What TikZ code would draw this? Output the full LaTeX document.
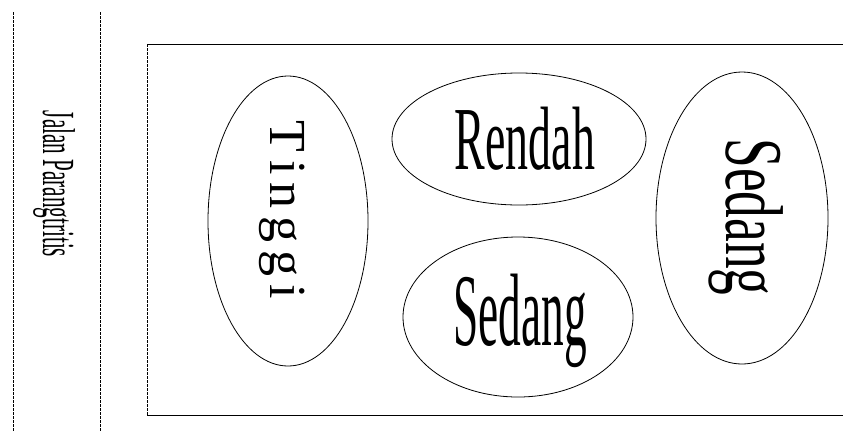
\documentclass[tikz,border=0pt]{standalone}
\usepackage{fontspec}
\setmainfont{Liberation Serif}
\usetikzlibrary{shapes.geometric}
\begin{document}
\begin{tikzpicture}[x=1pt,y=-1pt,
  zone/.style={ellipse,draw,line width=0.8pt,inner sep=0pt},
  lbl/.style={inner sep=0pt,anchor=center},
  guide/.style={line width=0.7pt,dash pattern=on 3pt off 1pt},
  frameline/.style={line width=0.9pt}]
\useasboundingbox (0,0) rectangle (843,432);
% vertical guide lines
\coordinate (g1t) at (13,12);  \coordinate (g1b) at (13,432);
\coordinate (g2t) at (100,12); \coordinate (g2b) at (100,432);
\draw[guide] (g1t) -- (g1b);
\draw[guide] (g2t) -- (g2b);
% street name
\node[lbl,rotate=-90] (street) at (54,184)
  {\fontsize{46}{46}\selectfont\scalebox{0.46}[1]{Jalan Parangtritis}};
% open frame
\coordinate (ftr) at (843,44); \coordinate (ftl) at (147,44);
\coordinate (fbl) at (147,415); \coordinate (fbr) at (843,415);
\draw[frameline] (ftr) -- (ftl);
\draw[guide] (ftl) -- (fbl);
\draw[frameline] (fbl) -- (fbr);
% zones
\node[zone,minimum width=160pt,minimum height=290pt] (etinggi) at (288,221) {};
\node[zone,minimum width=254pt,minimum height=132pt] (erendah) at (519,139) {};
\node[zone,minimum width=230pt,minimum height=160pt] (esedang) at (518,317) {};
\node[zone,minimum width=172pt,minimum height=292pt] (esedang2) at (742,218) {};
% labels
\node[lbl,rotate=-90] (ttinggi) at (282,210)
  {\fontsize{52}{52}\selectfont T\kern8pt i\kern8pt n\kern8pt g\kern8pt g\kern8pt i};
\node[lbl] (trendah) at (525,139)
  {\fontsize{90}{90}\selectfont\scalebox{0.51}[1]{Rendah}};
\node[lbl] (tsedang) at (520,321)
  {\fontsize{103}{103}\selectfont\scalebox{0.44}[1]{Sedang}};
\node[lbl,rotate=-90] (tsedang2) at (746,217)
  {\fontsize{82}{82}\selectfont\scalebox{0.65}[1]{Sedang}};
\end{tikzpicture}
\end{document}
